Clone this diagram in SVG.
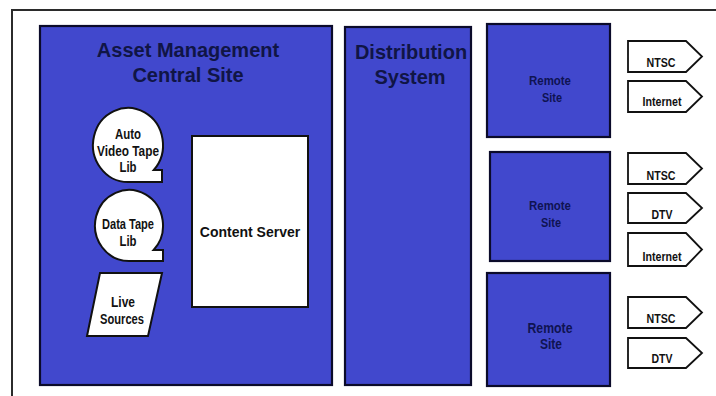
<svg xmlns="http://www.w3.org/2000/svg" width="716" height="396" viewBox="0 0 716 396">
  <style>
    .frame { fill: none; stroke: #2b2b2b; stroke-width: 2; }
    .blue { fill: #4148cd; stroke: #0b0b2a; stroke-width: 2.2; }
    .white { fill: #ffffff; stroke: #111111; stroke-width: 2; }
    .tag { fill: #ffffff; stroke: #111111; stroke-width: 1.8; stroke-linejoin: miter; }
    text { font-family: "Liberation Sans", Arial, sans-serif; font-weight: bold; text-anchor: middle; }
    .title { font-size: 20px; fill: #101545; }
    .site { font-size: 13px; fill: #0f1352; }
    .lbl { font-size: 14px; fill: #111111; }
    .tagtxt { font-size: 13px; fill: #111111; }
  </style>

  <!-- outer frame, open towards right and bottom -->
  <rect class="frame" x="12" y="10" width="720" height="400"/>

  <g id="central-site">
    <rect class="blue" x="40" y="26" width="292" height="359"/>
    <text class="title" x="188" y="57">Asset Management</text>
    <text class="title" x="188" y="82">Central Site</text>
  </g>

  <g id="auto-video-tape-lib">
    <path class="white" d="M128,182 A35,37 0 1 1 153.8,170 L162,170 L162,182 Z"/>
    <text class="lbl" x="128" y="139" textLength="26" lengthAdjust="spacingAndGlyphs">Auto</text>
    <text class="lbl" x="128" y="156" textLength="62" lengthAdjust="spacingAndGlyphs">Video Tape</text>
    <text class="lbl" x="128" y="172" textLength="17" lengthAdjust="spacingAndGlyphs">Lib</text>
  </g>

  <g id="data-tape-lib">
    <path class="white" d="M129,261 A34,35.5 0 1 1 153.6,250 L163,250 L163,261 Z"/>
    <text class="lbl" x="128" y="229" textLength="52" lengthAdjust="spacingAndGlyphs">Data Tape</text>
    <text class="lbl" x="128" y="246" textLength="17" lengthAdjust="spacingAndGlyphs">Lib</text>
  </g>

  <g id="live-sources">
    <polygon class="white" points="100,273 162,273 148,336 87,336"/>
    <text class="lbl" x="123" y="307" textLength="24" lengthAdjust="spacingAndGlyphs">Live</text>
    <text class="lbl" x="122" y="324" textLength="44" lengthAdjust="spacingAndGlyphs">Sources</text>
  </g>

  <g id="content-server">
    <rect class="white" x="192" y="136" width="116" height="171"/>
    <text x="250" y="237" style="font-size:14px;fill:#111111">Content Server</text>
  </g>

  <g id="distribution-system">
    <rect class="blue" x="345" y="27" width="126" height="358"/>
    <text class="title" x="411" y="59">Distribution</text>
    <text class="title" x="410" y="84">System</text>
  </g>

  <g id="remote-site-1">
    <rect class="blue" x="487" y="24" width="123" height="113"/>
    <text class="site" x="550" y="85" textLength="42" lengthAdjust="spacingAndGlyphs">Remote</text>
    <text class="site" x="552" y="102" textLength="20" lengthAdjust="spacingAndGlyphs">Site</text>
  </g>

  <g id="remote-site-2">
    <rect class="blue" x="490" y="152" width="120" height="109"/>
    <text class="site" x="550" y="210" textLength="42" lengthAdjust="spacingAndGlyphs">Remote</text>
    <text class="site" x="551" y="227" textLength="20" lengthAdjust="spacingAndGlyphs">Site</text>
  </g>

  <g id="remote-site-3">
    <rect class="blue" x="487" y="273" width="123" height="113"/>
    <text class="site" x="550" y="333" textLength="45" lengthAdjust="spacingAndGlyphs" style="font-size:14px">Remote</text>
    <text class="site" x="551" y="349" textLength="22" lengthAdjust="spacingAndGlyphs" style="font-size:14px">Site</text>
  </g>

  <g id="out-ntsc-1">
    <path class="tag" d="M628,41 L686,41 L702,56.5 L686,72 L628,72 Z"/>
    <text class="tagtxt" x="661" y="67" textLength="29" lengthAdjust="spacingAndGlyphs">NTSC</text>
  </g>
  <g id="out-internet-1">
    <path class="tag" d="M628,81 L686,81 L702,96.5 L686,112 L628,112 Z"/>
    <text class="tagtxt" x="662" y="106" textLength="39" lengthAdjust="spacingAndGlyphs">Internet</text>
  </g>

  <g id="out-ntsc-2">
    <path class="tag" d="M628,153 L686,153 L702,168.5 L686,184 L628,184 Z"/>
    <text class="tagtxt" x="661" y="180" textLength="29" lengthAdjust="spacingAndGlyphs">NTSC</text>
  </g>
  <g id="out-dtv-2">
    <path class="tag" d="M628,193 L686,193 L702,208 L686,223 L628,223 Z"/>
    <text class="tagtxt" x="662" y="219" textLength="21" lengthAdjust="spacingAndGlyphs">DTV</text>
  </g>
  <g id="out-internet-2">
    <path class="tag" d="M628,233 L686,233 L702,249.5 L686,266 L628,266 Z"/>
    <text class="tagtxt" x="662" y="261" textLength="39" lengthAdjust="spacingAndGlyphs">Internet</text>
  </g>

  <g id="out-ntsc-3">
    <path class="tag" d="M628,297 L686,297 L702,312.5 L686,328 L628,328 Z"/>
    <text class="tagtxt" x="661" y="323" textLength="29" lengthAdjust="spacingAndGlyphs">NTSC</text>
  </g>
  <g id="out-dtv-3">
    <path class="tag" d="M628,338 L686,338 L702,353 L686,368 L628,368 Z"/>
    <text class="tagtxt" x="662" y="363" textLength="21" lengthAdjust="spacingAndGlyphs">DTV</text>
  </g>

  <!-- no connectors in this layout -->
  <g id="connectors"/>
</svg>
